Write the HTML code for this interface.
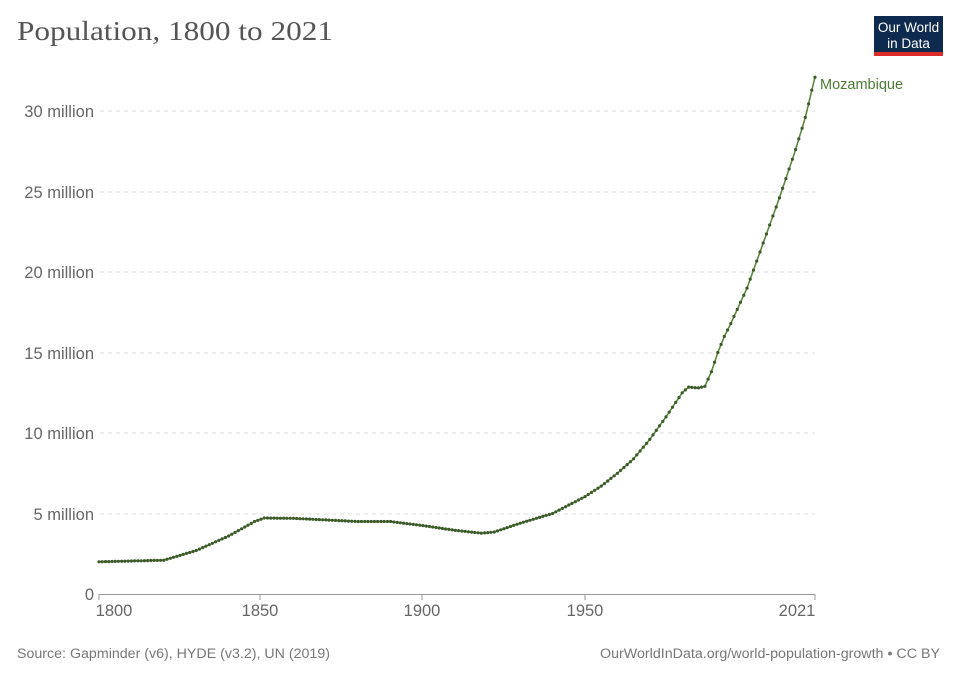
<!DOCTYPE html>
<html><head><meta charset="utf-8"><style>
body{margin:0;background:#fff;width:960px;height:678px;overflow:hidden;font-family:"Liberation Sans",sans-serif}
</style></head><body>
<svg id="s" width="960" height="678" xmlns="http://www.w3.org/2000/svg">
<text x="17" y="40" font-family="Liberation Serif,serif" font-size="27" fill="#555" textLength="316" lengthAdjust="spacingAndGlyphs">Population, 1800 to 2021</text>
<rect x="874" y="16" width="69" height="40" fill="#0e2a4f"/>
<rect x="874" y="52" width="69" height="4" fill="#dc2a2a"/>
<text x="908.5" y="32" text-anchor="middle" font-size="13.5" fill="#fff">Our World</text>
<text x="908.5" y="48" text-anchor="middle" font-size="13.5" fill="#fff">in Data</text>
<g stroke="#ddd" stroke-dasharray="4,4" stroke-width="1">
<line x1="100" x2="815" y1="111" y2="111"/><line x1="100" x2="815" y1="192" y2="192"/>
<line x1="100" x2="815" y1="272" y2="272"/><line x1="100" x2="815" y1="353" y2="353"/>
<line x1="100" x2="815" y1="433" y2="433"/><line x1="100" x2="815" y1="514" y2="514"/>
</g>
<line x1="99" x2="815" y1="594.5" y2="594.5" stroke="#999"/>
<g stroke="#999"><line x1="99" x2="99" y1="594" y2="600"/><line x1="260" x2="260" y1="594" y2="600"/><line x1="422" x2="422" y1="594" y2="600"/><line x1="585" x2="585" y1="594" y2="600"/><line x1="815" x2="815" y1="594" y2="600"/></g>
<g font-size="16.5" fill="#666" text-anchor="end">
<text x="94" y="117">30 million</text><text x="94" y="198">25 million</text>
<text x="94" y="278">20 million</text><text x="94" y="359">15 million</text>
<text x="94" y="439">10 million</text><text x="94" y="520">5 million</text>
<text x="94" y="600">0</text></g>
<g font-size="16.5" fill="#666" text-anchor="middle">
<text x="114" y="616">1800</text><text x="260" y="616">1850</text><text x="422" y="616">1900</text><text x="585" y="616">1950</text><text x="797" y="616">2021</text></g>
<text x="820" y="89" font-size="14.5" fill="#4c7a34">Mozambique</text>
<text x="17" y="658" font-size="13.5" fill="#777" textLength="313" lengthAdjust="spacingAndGlyphs">Source: Gapminder (v6), HYDE (v3.2), UN (2019)</text>
<text x="940" y="658" font-size="13.5" fill="#777" text-anchor="end" textLength="340" lengthAdjust="spacingAndGlyphs">OurWorldInData.org/world-population-growth • CC BY</text>
<g id="g"></g>
</svg>
<script>
var k=[[1800,2.0],[1820,2.1],[1830,2.7],[1840,3.6],[1848,4.5],[1851,4.72],[1860,4.7],[1870,4.6],[1880,4.5],[1890,4.5],[1900,4.25],[1910,3.95],[1918,3.78],[1922,3.85],[1930,4.4],[1940,5.0],[1950,6.05],[1955,6.7],[1960,7.5],[1965,8.4],[1970,9.6],[1975,11.0],[1980,12.5],[1982,12.85],[1985,12.8],[1987,12.9],[1989,13.8],[1991,15.0],[1993,16.0],[1995,16.8],[2000,19.0],[2005,21.8],[2010,24.6],[2015,27.6],[2018,29.6],[2020,31.3],[2021,32.1]];
function f(y){for(var i=0;i<k.length-1;i++){if(y>=k[i][0]&&y<=k[i+1][0]){var t=(y-k[i][0])/(k[i+1][0]-k[i][0]);return k[i][1]+t*(k[i+1][1]-k[i][1]);}}return k[k.length-1][1];}
var pts=[],h='';
for(var y=1800;y<=2021;y++){var X=99+(y-1800)*3.24,Y=594-f(y)*16.1;pts.push(X.toFixed(1)+','+Y.toFixed(1));h+='<circle cx="'+X.toFixed(1)+'" cy="'+Y.toFixed(1)+'" r="1.6" fill="#3d5a2a"/>';}
document.getElementById('g').innerHTML='<polyline points="'+pts.join(' ')+'" fill="none" stroke="#5b8a3c" stroke-width="1.6"/>'+h;
</script>
</body></html>
